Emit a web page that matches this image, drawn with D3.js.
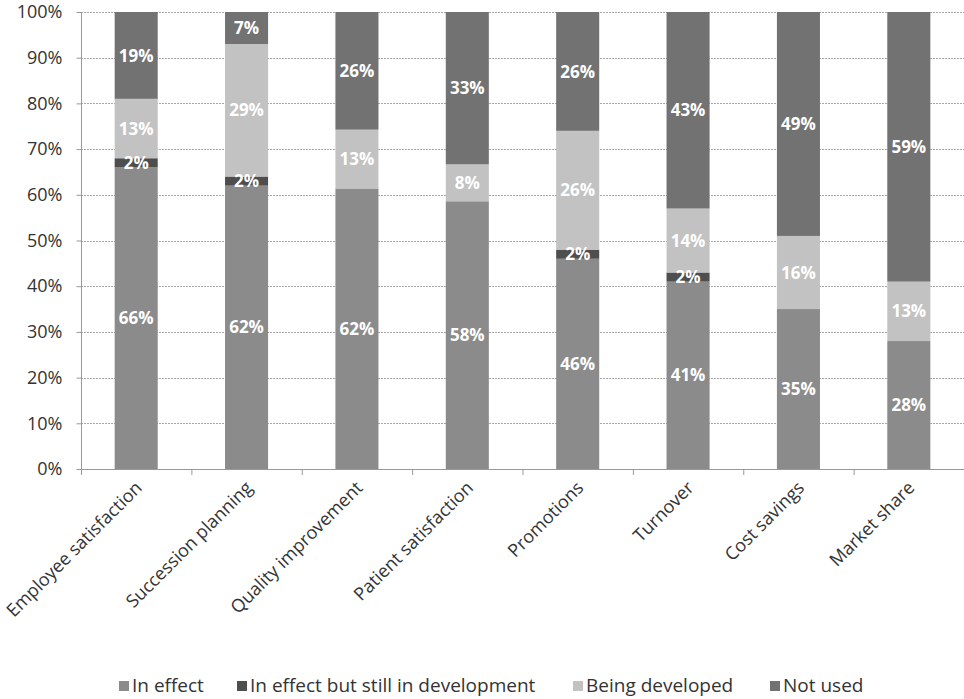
<!DOCTYPE html>
<html>
<head>
<meta charset="utf-8">
<script src="https://cdn.jsdelivr.net/npm/d3@7"></script>
<style>
  html, body { margin: 0; padding: 0; background: #fff; }
  svg { display: block; }
  text { font-family: "Open Sans", sans-serif; }
</style>
</head>
<body>
<svg id="chart" width="964" height="699"></svg>
<script>
// Categories and series (percent of respondents)
const categories = ["Employee satisfaction", "Succession planning", "Quality improvement",
  "Patient satisfaction", "Promotions", "Turnover", "Cost savings", "Market share"];
const seriesNames = ["In effect", "In effect but still in development", "Being developed", "Not used"];
const inEffect       = [66, 62, 62, 58, 46, 41, 35, 28];
const inDevelopment  = [2, 2, 0, 0, 2, 2, 0, 0];
const beingDeveloped = [13, 29, 13, 8, 26, 14, 16, 13];
const notUsed        = [19, 7, 26, 33, 26, 43, 49, 59];
const yTicks = [0, 0.1, 0.2, 0.3, 0.4, 0.5, 0.6, 0.7, 0.8, 0.9, 1.0];

const colors = ["#8b8b8b", "#4e4e4e", "#c2c2c2", "#727272"];

const svg = d3.select("#chart");
const margin = { left: 81, right: 0, top: 12 };
const W = 964;
const x = d3.scaleBand().domain(categories).range([margin.left, W - margin.right])
  .paddingInner(0.61).paddingOuter(0.305);
const y = d3.scaleLinear().domain([0, 1]).range([469, margin.top]);

// Table for the 100% stack
const seriesValues = [inEffect, inDevelopment, beingDeveloped, notUsed];
const table = categories.map((c, i) => {
  const row = { category: c };
  seriesNames.forEach((s, k) => row[s] = seriesValues[k][i]);
  return row;
});
const layers = d3.stack().keys(seriesNames).offset(d3.stackOffsetExpand)(table);

// Gridlines
svg.append("g").selectAll("line").data(yTicks.slice(1)).join("line")
  .attr("x1", margin.left).attr("x2", W)
  .attr("y1", d => Math.round(y(d)) + 0.5).attr("y2", d => Math.round(y(d)) + 0.5)
  .attr("stroke", "#a8a8a8").attr("stroke-width", 1).attr("stroke-dasharray", "2,1");

// Bars
const g = svg.append("g");
layers.forEach((layer, k) => {
  g.append("g").selectAll("rect").data(layer).join("rect")
    .attr("x", d => x(d.data.category))
    .attr("width", x.bandwidth())
    .attr("y", d => y(d[1]))
    .attr("height", d => y(d[0]) - y(d[1]))
    .attr("fill", colors[k]);
});

// Value labels
layers.forEach((layer, k) => {
  g.append("g").selectAll("text").data(layer.filter(d => d.data[layer.key] > 0)).join("text")
    .attr("x", d => x(d.data.category) + x.bandwidth() / 2)
    .attr("y", d => y((d[0] + d[1]) / 2))
    .attr("dy", "0.36em")
    .attr("text-anchor", "middle")
    .attr("font-size", 17)
    .attr("font-weight", "bold")
    .attr("fill", "#fff")
    .text(d => d.data[layer.key] + "%");
});

// Y axis
const yAxis = d3.axisLeft(y).tickValues(yTicks).tickFormat(d3.format(".0%")).tickSize(5).tickPadding(14);
const ya = svg.append("g").attr("transform", `translate(${margin.left + 0.5},0)`).call(yAxis);
ya.select(".domain").attr("stroke", "#999").attr("d", `M0,${y(1)}V${y(0)}`);
ya.selectAll(".tick line").attr("stroke", "#999");
ya.selectAll(".tick text").attr("font-size", 18).attr("fill", "#333")
  .attr("font-family", "'Open Sans', sans-serif");

// X axis line and category boundary ticks
const xa = svg.append("g");
xa.append("line").attr("x1", margin.left).attr("x2", W)
  .attr("y1", y(0) + 0.5).attr("y2", y(0) + 0.5).attr("stroke", "#999");
const step = x.step();
xa.selectAll(".bt").data(d3.range(categories.length + 1)).join("line")
  .attr("class", "bt")
  .attr("x1", i => margin.left + i * step + 0.5).attr("x2", i => margin.left + i * step + 0.5)
  .attr("y1", y(0)).attr("y2", y(0) + 6).attr("stroke", "#999");

// Rotated category labels
xa.selectAll(".cl").data(categories).join("text")
  .attr("class", "cl")
  .attr("transform", d => `translate(${x(d) + x.bandwidth() / 2 - 2},${y(0) + 11}) rotate(-45)`)
  .attr("text-anchor", "end")
  .attr("dy", "0.7em")
  .attr("font-size", 18)
  .attr("fill", "#333")
  .text(d => d);

// Legend
const legendX = [119, 237, 573, 770];
const lg = svg.append("g");
seriesNames.forEach((s, k) => {
  lg.append("rect").attr("x", legendX[k]).attr("y", 681).attr("width", 10).attr("height", 10).attr("fill", colors[k]);
  lg.append("text").attr("x", legendX[k] + 13).attr("y", 692).attr("font-size", 19).attr("fill", "#333").text(s);
});
</script>
</body>
</html>
